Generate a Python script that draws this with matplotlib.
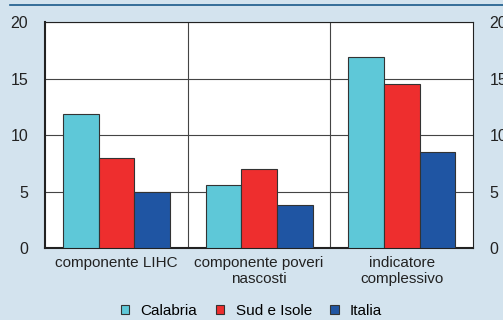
import matplotlib
matplotlib.use("Agg")
import matplotlib.pyplot as plt
import numpy as np
from matplotlib.lines import Line2D
from matplotlib.patches import Patch

categories = ["componente LIHC", "componente poveri\nnascosti", "indicatore\ncomplessivo"]
series = ["Calabria", "Sud e Isole", "Italia"]
calabria = [11.9, 5.6, 16.9]
sud = [8.0, 7.0, 14.5]
italia = [4.95, 3.8, 8.5]
colors = ["#5ec8d8", "#ee2e2e", "#1f55a3"]
yticks = [0, 5, 10, 15, 20]

plt.rcParams['font.family'] = ['Liberation Sans', 'DejaVu Sans']
bg = "#d3e3ee"
fig = plt.figure(figsize=(5.03, 3.2), dpi=100, facecolor=bg)
ax = fig.add_axes([0.0895, 0.225, 0.851, 0.706])
ax.set_facecolor("white")

x = np.arange(len(categories))
w = 0.25
for i, (vals, c) in enumerate(zip([calabria, sud, italia], colors)):
    ax.bar(x + (i - 1) * w, vals, w, color=c, edgecolor="#333333", linewidth=0.8, zorder=3, label=series[i])

ax.set_xlim(-0.5, 2.5)
ax.set_ylim(0, 20)
ax.set_yticks(yticks)
ax.set_xticks(x)
ax.set_xticklabels(categories, fontsize=11, color="#222222", linespacing=1.2)
ax.set_xticks([0.5, 1.5], minor=True)
ax.grid(axis="y", color="#444444", linewidth=0.8, zorder=0)
ax.grid(axis="x", which="minor", color="#444444", linewidth=0.8, zorder=0)
ax.tick_params(axis="x", which="both", length=0, pad=5.5)
ax.tick_params(axis="y", length=0, pad=12, labelsize=11.5, colors="#222222", right=True, labelright=True)
for s in ax.spines.values():
    s.set_color("#222222")
    s.set_linewidth(0.8)
ax.spines["left"].set_linewidth(1.5)
ax.spines["bottom"].set_linewidth(1.5)

handles = [Patch(facecolor=c, edgecolor="#333333", linewidth=0.8) for c in colors]
fig.legend(handles, series, loc="lower center", bbox_to_anchor=(0.5, -0.036), ncol=3, frameon=False,
           fontsize=11, handlelength=0.55, handleheight=0.55, columnspacing=1.2, handletextpad=0.75)

fig.add_artist(Line2D([10/503, 1], [1 - 4.5/320, 1 - 4.5/320], color="#1a5a8a", linewidth=1.2))

fig.savefig("out.png", dpi=100, facecolor=bg)
